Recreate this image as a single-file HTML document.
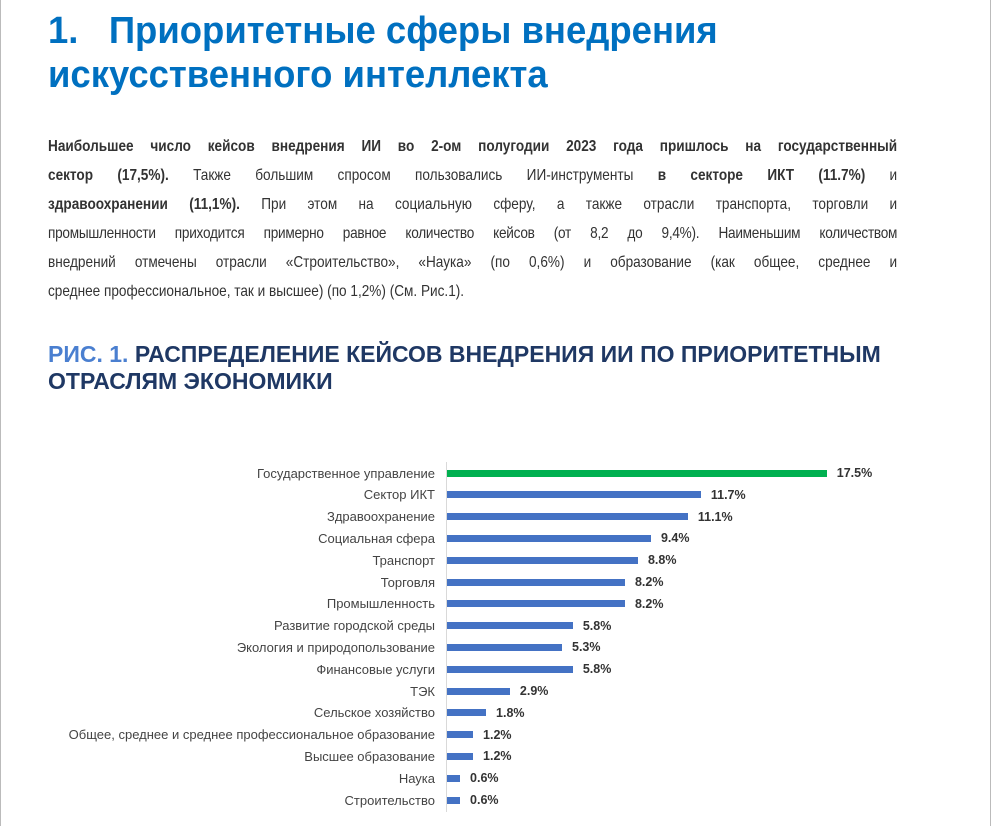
<!DOCTYPE html>
<html><head><meta charset="utf-8"><style>
body{margin:0;width:992px;height:826px;background:#fff;position:relative;overflow:hidden;font-family:"Liberation Sans",sans-serif}
.vl{position:absolute;top:0;bottom:0;width:1px;background:#bbb}
.t{position:absolute;left:48px;color:#0070c0;font-size:38px;font-weight:bold;white-space:nowrap;line-height:1;transform:scaleX(0.96);transform-origin:left top}
.p{position:absolute;left:48px;width:999px;font-size:16px;color:#333;white-space:nowrap;text-align:justify;text-align-last:justify;line-height:1;transform:scaleX(0.85);transform-origin:left top}
.f{position:absolute;left:48px;font-size:23px;font-weight:bold;color:#1f3864;white-space:nowrap;line-height:1}
.lab{position:absolute;right:557px;font-size:13px;color:#444;white-space:nowrap;line-height:1}
.bar{position:absolute;left:447px;height:7px;background:#4472c4}
.val{position:absolute;font-size:12.5px;font-weight:bold;color:#333;line-height:1}
</style></head><body>
<div class="vl" style="left:0"></div><div class="vl" style="left:990px"></div>
<div class="t" style="top:12px">1.&nbsp;&nbsp;&nbsp;Приоритетные сферы внедрения</div>
<div class="t" style="top:56px">искусственного интеллекта</div>
<div class="p" style="top:139px"><b>Наибольшее число кейсов внедрения ИИ во 2-ом полугодии 2023 года пришлось на государственный</b></div>
<div class="p" style="top:168px"><b>сектор (17,5%).</b> Также большим спросом пользовались ИИ-инструменты <b>в секторе ИКТ (11.7%)</b> и</div>
<div class="p" style="top:197px"><b>здравоохранении (11,1%).</b> При этом на социальную сферу, а также отрасли транспорта, торговли и</div>
<div class="p" style="top:226px;letter-spacing:-0.3px">промышленности приходится примерно равное количество кейсов (от 8,2 до 9,4%). Наименьшим количеством</div>
<div class="p" style="top:255px">внедрений отмечены отрасли «Строительство», «Наука» (по 0,6%) и образование (как общее, среднее и</div>
<div class="p" style="top:284px;text-align-last:left">среднее профессиональное, так и высшее) (по 1,2%) (См. Рис.1).</div>
<div class="f" style="top:343px"><span style="color:#4a7fd0">РИС. 1.</span> РАСПРЕДЕЛЕНИЕ КЕЙСОВ ВНЕДРЕНИЯ ИИ ПО ПРИОРИТЕТНЫМ</div>
<div class="f" style="top:370px">ОТРАСЛЯМ ЭКОНОМИКИ</div>
<div style="position:absolute;left:446px;top:462px;width:1px;height:350px;background:#d9d9d9"></div>
<div id="c"></div>
<script>
var d=[["Государственное управление",17.5],["Сектор ИКТ",11.7],["Здравоохранение",11.1],["Социальная сфера",9.4],["Транспорт",8.8],["Торговля",8.2],["Промышленность",8.2],["Развитие городской среды",5.8],["Экология и природопользование",5.3],["Финансовые услуги",5.8],["ТЭК",2.9],["Сельское хозяйство",1.8],["Общее, среднее и среднее профессиональное образование",1.2],["Высшее образование",1.2],["Наука",0.6],["Строительство",0.6]];
var h="";
d.forEach(function(r,i){var y=473+i*21.8;var w=r[1]*21.7;
h+='<div class="lab" style="top:'+(y-6.5)+'px">'+r[0]+'</div>';
h+='<div class="bar" style="top:'+(y-3.5)+'px;width:'+w+'px'+(i==0?';background:#00b050':'')+'"></div>';
h+='<div class="val" style="top:'+(y-6)+'px;left:'+(447+w+10)+'px">'+r[1].toFixed(1)+'%</div>';});
document.getElementById("c").innerHTML=h;
</script>
</body></html>
